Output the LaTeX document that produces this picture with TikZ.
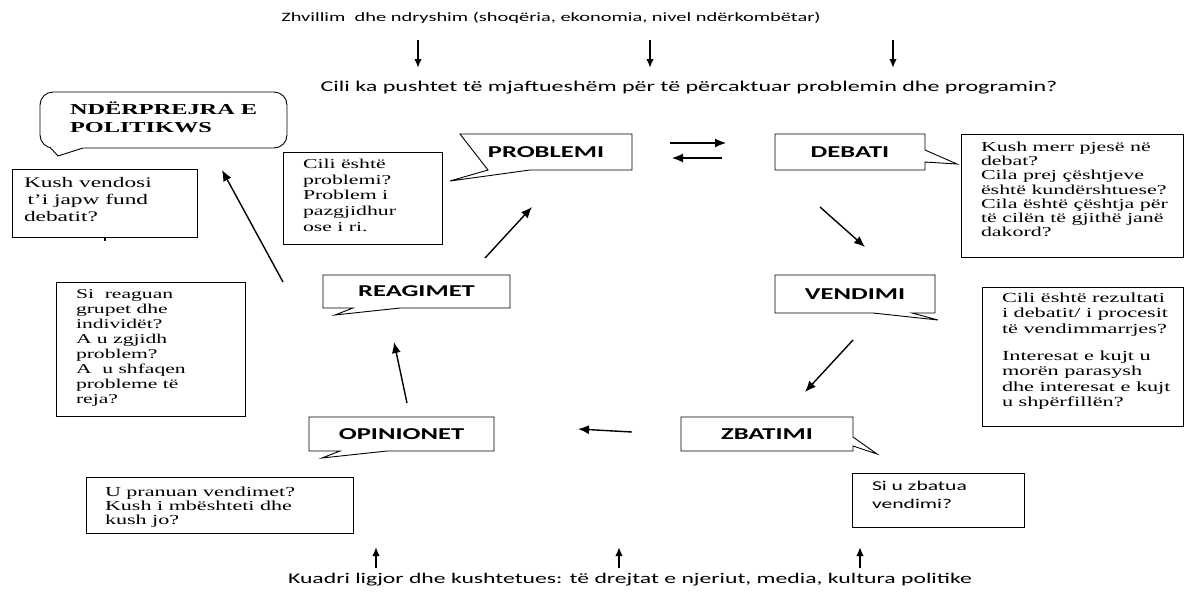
\documentclass[tikz,border=0pt]{standalone}
\usepackage{fontspec}
\setmainfont{Liberation Serif}[FakeStretch=1.6]
\newfontfamily\calfont{Carlito}[FakeStretch=1.6]
\usetikzlibrary{arrows.meta,calc}
\begin{document}
\begin{tikzpicture}[x=1pt,y=-1pt,
  every node/.style={outer sep=0pt},
  lbl/.style={font=\calfont\bfseries\fontsize{16.6}{18}\selectfont, inner sep=0pt, minimum height=36pt, anchor=north west},
  outl/.style={draw=black, line width=0.9pt, line join=miter},
  qbox/.style={draw=black, line width=0.9pt, anchor=north west, inner sep=0pt},
  qtext/.style={anchor=north west, align=left, inner sep=0pt},
  plain/.style={font=\calfont\fontsize{12.75}{15}\selectfont, inner sep=0pt},
  arr/.style={-{Latex[length=11pt,width=9pt]}, line width=1.4pt},
  varr/.style={-{Latex[length=9pt,width=7.5pt]}, line width=1.8pt},
]
\useasboundingbox[fill=white] (0,0) rectangle (1187,598);

% top and bottom texts
\node[plain] (toptext) at (551,18) {Zhvillim\ \ dhe ndryshim (shoqëria, ekonomia, nivel ndërkombëtar)};
\node[plain, font=\calfont\fontsize{15}{17}\selectfont] (question) at (689,88) {Cili ka pushtet të mjaftueshëm për të përcaktuar problemin dhe programin?};
\node[plain, font=\calfont\fontsize{14.8}{17}\selectfont] (bottext) at (630,580) {Kuadri ligjor dhe kushtetues: të drejtat e njeriut, media, kultura politike};

% vertical arrows
\coordinate (d1a) at (418,40); \coordinate (d1b) at (418,68);
\coordinate (d2a) at (650,40); \coordinate (d2b) at (650,68);
\coordinate (d3a) at (893,40); \coordinate (d3b) at (893,68);
\draw[varr] (d1a) -- (d1b);
\draw[varr] (d2a) -- (d2b);
\draw[varr] (d3a) -- (d3b);
\coordinate (u1a) at (376,568); \coordinate (u1b) at (376,547);
\coordinate (u2a) at (619,568); \coordinate (u2b) at (619,547);
\coordinate (u3a) at (860,568); \coordinate (u3b) at (860,547);
\draw[varr] (u1a) -- (u1b);
\draw[varr] (u2a) -- (u2b);
\draw[varr] (u3a) -- (u3b);

% NDERPREJRA bubble
\node[draw=black, line width=0.9pt, rounded corners=13pt, minimum width=247pt, minimum height=56pt, anchor=north west, inner sep=0pt] (ndbox) at (40,92) {};
\coordinate (ndtip) at (58,156);
\fill[white] (50.5,146) -- (83,146) -- (83,149.3) -- (ndtip) -- (50.5,149.3) -- cycle;
\draw[outl] (50.3,147.65) -- (ndtip) -- (83,148);
\node[qtext, font=\bfseries\fontsize{15.2}{18}\selectfont] (ndtext) at (70,102) {NDËRPREJRA E\\POLITIKWS};

% callout labels
\node[lbl, minimum width=172pt] (problemi) at (460,134) {PROBLEMI};
\coordinate (ptip) at (450,181);
\draw[outl] (problemi.north west) -- (problemi.north east) -- (problemi.south east) -- ($(problemi.south west)+(70,0)$) -- (ptip) -- ($(problemi.south west)+(28,0)$) -- cycle;

\node[lbl, minimum width=150pt] (debati) at (775,134) {DEBATI};
\coordinate (dtip) at (957,164);
\draw[outl] (debati.north west) -- (debati.north east) -- ($(debati.north east)+(0,16)$) -- (dtip) -- ($(debati.north east)+(0,28)$) -- (debati.south east) -- (debati.south west) -- cycle;

\node[lbl, minimum width=160pt, minimum height=38pt] (vendimi) at (775,275) {VENDIMI};
\coordinate (vtip) at (938,320);
\draw[outl] (vendimi.north west) -- (vendimi.north east) -- (vendimi.south east) -- ($(vendimi.south west)+(137,0)$) -- (vtip) -- ($(vendimi.south west)+(98,0)$) -- (vendimi.south west) -- cycle;

\node[lbl, minimum width=172pt, minimum height=34pt] (zbatimi) at (681,417) {ZBATIMI};
\coordinate (ztip) at (877,454);
\draw[outl] (zbatimi.north west) -- (zbatimi.north east) -- ($(zbatimi.north east)+(0,20)$) -- (ztip) -- ($(zbatimi.north east)+(0,29)$) -- (zbatimi.south east) -- (zbatimi.south west) -- cycle;

\node[lbl, minimum width=185pt, minimum height=34pt] (opinionet) at (309,417) {OPINIONET};
\coordinate (otip) at (322,458);
\draw[outl] (opinionet.north west) -- (opinionet.north east) -- (opinionet.south east) -- ($(opinionet.south west)+(78,0)$) -- (otip) -- ($(opinionet.south west)+(31,0)$) -- (opinionet.south west) -- cycle;

\node[lbl, minimum width=187pt, minimum height=33pt] (reagimet) at (323,275) {REAGIMET};
\coordinate (rtip) at (335,315);
\draw[outl] (reagimet.north west) -- (reagimet.north east) -- (reagimet.south east) -- ($(reagimet.south west)+(77,0)$) -- (rtip) -- ($(reagimet.south west)+(30,0)$) -- (reagimet.south west) -- cycle;

% question boxes
\node[qbox, minimum width=185pt, minimum height=68pt] (kvbox) at (12,169) {};
\node[qtext, font=\fontsize{14.6}{17}\selectfont] (kvtext) at (24,177) {Kush vendosi\\\hspace{3.5pt}t'i japw fund\\debatit?};
\coordinate (tk1) at (105,237.5); \coordinate (tk2) at (105,241);
\draw[line width=1.2pt] (tk1) -- (tk2);

\node[qbox, minimum width=159pt, minimum height=92pt] (cpbox) at (283,152) {};
\node[qtext, font=\fontsize{13.6}{15.7}\selectfont] (cptext) at (303,159) {Cili është\\problemi?\\Problem i\\pazgjidhur\\ose i ri.};

\node[qbox, minimum width=222pt, minimum height=123pt] (kmbox) at (961,134) {};
\node[qtext, font=\fontsize{13.7}{14.2}\selectfont] (kmtext) at (981,142) {Kush merr pjesë në\\debat?\\Cila prej çështjeve\\është kundërshtuese?\\Cila është çështja për\\të cilën të gjithë janë\\dakord?};

\node[qbox, minimum width=189pt, minimum height=134pt] (srbox) at (56,282) {};
\node[qtext, font=\fontsize{13.5}{15}\selectfont] (srtext) at (76,290) {Si\ \ reaguan\\grupet dhe\\individët?\\A u zgjidh\\problem?\\A\ \ u shfaqen\\probleme të\\reja?};

\node[qbox, minimum width=201pt, minimum height=139pt] (crbox) at (982,287) {};
\node[qtext, font=\fontsize{13.9}{15.3}\selectfont] (crtext) at (1002,293) {Cili është rezultati\\i debatit/ i procesit\\të vendimmarrjes?\\[12pt]Interesat e kujt u\\morën parasysh\\dhe interesat e kujt\\u shpërfillën?};

\node[qbox, minimum width=267pt, minimum height=56pt] (upbox) at (86,477) {};
\node[qtext, font=\fontsize{13.8}{14}\selectfont] (uptext) at (105,487) {U pranuan vendimet?\\Kush i mbështeti dhe\\kush jo?};

\node[qbox, minimum width=172pt, minimum height=54pt] (szbox) at (852,473) {};
\node[qtext, font=\calfont\fontsize{13.5}{18}\selectfont] (sztext) at (872,481) {Si u zbatua\\vendimi?};

% cycle arrows
\coordinate (a1s) at (485,258); \coordinate (a1e) at (532,207);
\draw[arr] (a1s) -- (a1e);
\coordinate (a2s) at (670,143); \coordinate (a2e) at (726,143);
\draw[arr, line width=1.2pt] (a2s) -- (a2e);
\coordinate (a2bs) at (722,158); \coordinate (a2be) at (672,158);
\draw[arr, line width=1.2pt] (a2bs) -- (a2be);
\coordinate (a3s) at (820,207); \coordinate (a3e) at (865,247);
\draw[arr] (a3s) -- (a3e);
\coordinate (a4s) at (853,340); \coordinate (a4e) at (805,392);
\draw[arr] (a4s) -- (a4e);
\coordinate (a5s) at (632,432); \coordinate (a5e) at (578,429);
\draw[arr] (a5s) -- (a5e);
\coordinate (a6s) at (407,403); \coordinate (a6e) at (394,342);
\draw[arr] (a6s) -- (a6e);
\coordinate (a7s) at (283,282); \coordinate (a7e) at (222,170);
\draw[arr] (a7s) -- (a7e);
\end{tikzpicture}
\end{document}
